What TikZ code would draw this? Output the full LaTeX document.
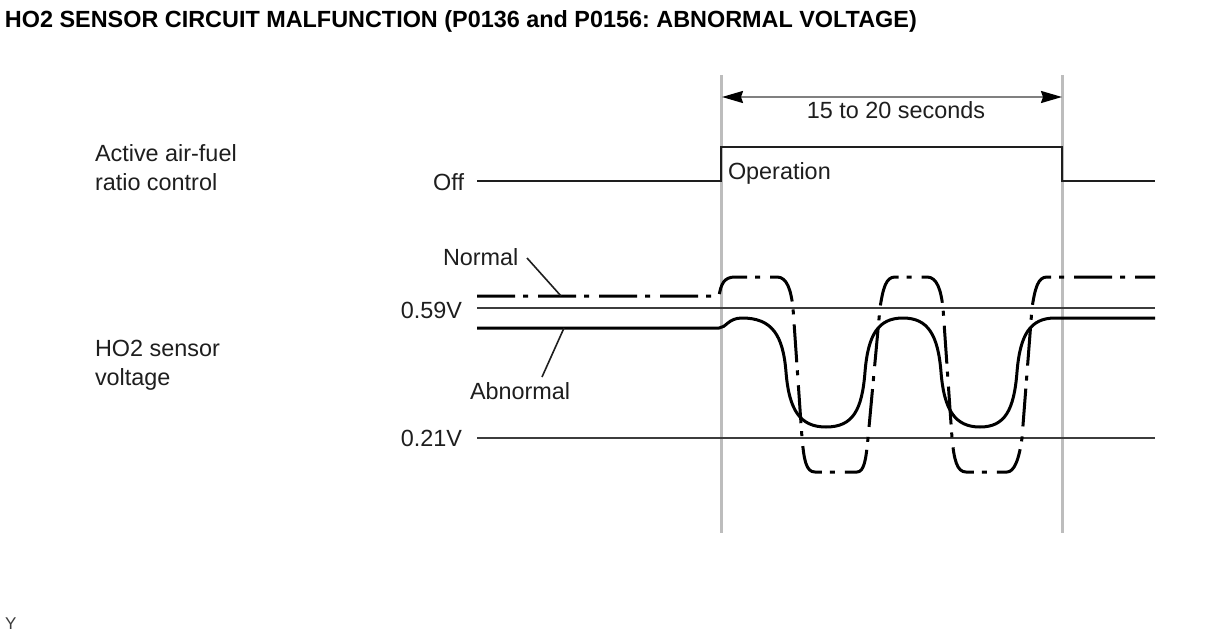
\documentclass[tikz,border=0pt]{standalone}
\usepackage{fontspec}
\setmainfont{Liberation Sans}
\usetikzlibrary{arrows.meta}
\definecolor{txt}{HTML}{1E1E1E}
\definecolor{guide}{HTML}{BDBDBD}
\definecolor{ref}{HTML}{3C3C3C}
\definecolor{dimc}{HTML}{808080}
\frenchspacing
\begin{document}
\begin{tikzpicture}[x=1pt,y=-1pt,
  lbl/.style={inner sep=0pt,outer sep=0pt,text=txt,font=\fontsize{23.4}{29}\selectfont},
  ttl/.style={inner sep=0pt,outer sep=0pt,text=black,font=\fontsize{23.4}{29}\selectfont\bfseries},
  guideline/.style={draw=guide,line width=3pt},
  refline/.style={draw=ref,line width=2pt},
  pulse/.style={draw=txt,line width=2pt},
  abnwave/.style={draw=black,line width=3pt},
  norwave/.style={draw=black,line width=3pt,dash pattern=on 38pt off 8pt on 5pt off 10pt},
  leader/.style={draw=txt,line width=1.6pt},
  dimline/.style={draw=dimc,line width=2pt,
    {Stealth[length=21pt,width=12pt,inset=2pt,black]}-{Stealth[length=21pt,width=12pt,inset=2pt,black]}}]
\useasboundingbox (0,0) rectangle (1212,634);
\fill[white] (0,0) rectangle (1212,634);

% title and footnote mark
\node[ttl,anchor=base west] (title) at (5,28) {HO2 SENSOR CIRCUIT MALFUNCTION (P0136 and P0156: ABNORMAL VOLTAGE)};
\node[inner sep=0pt,anchor=base west,text=ref,font=\fontsize{17}{19}\selectfont] (ymark) at (5,629) {Y};

% vertical guide lines
\coordinate (gL1) at (721,75);  \coordinate (gL2) at (721,533);
\coordinate (gR1) at (1062,75); \coordinate (gR2) at (1062,533);
\draw[guideline] (gL1) -- (gL2);
\draw[guideline] (gR1) -- (gR2);

% duration dimension
\coordinate (dL) at (722,97); \coordinate (dR) at (1062,97);
\draw[dimline] (dL) -- (dR);
\node[lbl,anchor=base] (dur) at (896,118) {15 to 20 seconds};

% active air-fuel ratio control
\node[lbl,anchor=base west] (afr1) at (95,161) {Active air-fuel};
\node[lbl,anchor=base west] (afr2) at (95,190) {ratio control};
\node[lbl,anchor=base east] (off) at (464,190) {Off};
\node[lbl,anchor=base west] (oper) at (728,179) {Operation};
\draw[pulse] (477,181) -- (721,181) -- (721,147) -- (1062,147) -- (1062,181) -- (1155,181);

% HO2 sensor voltage
\node[lbl,anchor=base west] (ho1) at (95,356) {HO2 sensor};
\node[lbl,anchor=base west] (ho2) at (95,385) {voltage};
\node[lbl,anchor=base east] (v59) at (462,318) {0.59V};
\node[lbl,anchor=base east] (v21) at (462,446) {0.21V};
\coordinate (r59a) at (477,308); \coordinate (r59b) at (1155,308);
\coordinate (r21a) at (477,438); \coordinate (r21b) at (1155,438);
\draw[refline] (r59a) -- (r59b);
\draw[refline] (r21a) -- (r21b);

% normal waveform (dash-dot)
\draw[norwave] (477,296) -- (719,296)
  .. controls (721,284) and (724,277) .. (735,277) -- (777,277)
  .. controls (787,277) and (791,290) .. (793,308) -- (802,438)
  .. controls (804,460) and (806,472) .. (815,472) -- (857,472)
  .. controls (864,472) and (866,460) .. (868,438) -- (880,308)
  .. controls (883,288) and (886,277) .. (895,277) -- (927,277)
  .. controls (937,277) and (941,290) .. (943,308) -- (952,438)
  .. controls (954,460) and (957,472) .. (966,472) -- (1007,472)
  .. controls (1014,472) and (1019,460) .. (1022,438) -- (1032,308)
  .. controls (1035,288) and (1038,277) .. (1047,277) -- (1155,277);

% abnormal waveform (solid)
\draw[abnwave] (477,328) -- (719,328)
  .. controls (726,328) and (728,318) .. (742,318)
  .. controls (772,318) and (783,335) .. (786,372)
  .. controls (789,410) and (800,427) .. (826,427)
  .. controls (853,427) and (862,410) .. (865,372)
  .. controls (868,335) and (878,318) .. (903,318)
  .. controls (928,318) and (938,335) .. (941,372)
  .. controls (944,410) and (955,427) .. (980,427)
  .. controls (1005,427) and (1014,410) .. (1017,372)
  .. controls (1020,335) and (1030,318) .. (1055,318)
  -- (1155,318);

% labels with leaders
\node[lbl,anchor=base west] (nor) at (443,265) {Normal};
\node[lbl,anchor=base west] (abn) at (470,399) {Abnormal};
\coordinate (norA) at (527,258); \coordinate (norB) at (561,296);
\coordinate (abnA) at (542,377); \coordinate (abnB) at (564,328);
\draw[leader] (norA) -- (norB);
\draw[leader] (abnA) -- (abnB);
\end{tikzpicture}
\end{document}
